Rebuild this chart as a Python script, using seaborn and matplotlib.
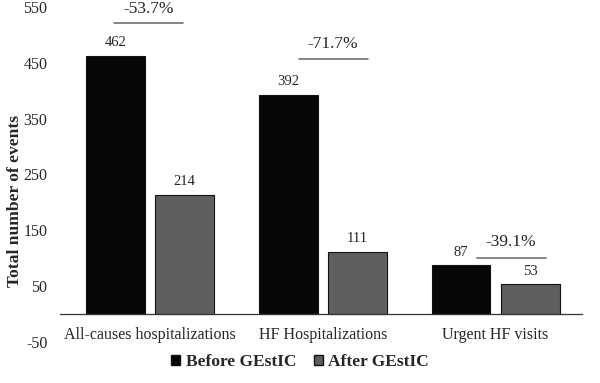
import pandas as pd
import numpy as np
import matplotlib.pyplot as plt
import seaborn as sns
from matplotlib.patches import Patch

# data
categories = ["All-causes hospitalizations", "HF Hospitalizations", "Urgent HF visits"]
before = [462, 392, 87]
after = [214, 111, 53]
changes = ["-53.7%", "-71.7%", "-39.1%"]
phases = ["Before GEstIC", "After GEstIC"]

df = pd.DataFrame({
    "category": categories * 2,
    "phase": [phases[0]] * 3 + [phases[1]] * 3,
    "events": before + after,
})

sns.set_style("white")
plt.rcParams["font.family"] = ["Liberation Serif", "DejaVu Serif"]
plt.rcParams["axes.unicode_minus"] = False

fig = plt.figure(figsize=(6, 3.83), dpi=100)
ax = fig.add_axes([0.1, 0.107, 0.87, 0.875])

sns.barplot(data=df, x="category", y="events", hue="phase",
            palette=["#070707", "#5f5f5f"], gap=0.15, width=0.8,
            edgecolor="#111111", linewidth=0.8, legend=False, ax=ax)

# value labels on top of bars
for cont in ax.containers:
    ax.bar_label(cont, padding=5, fontsize=10.5)

# percentage change with a short line above each group
line_y = [521, 457, 100]
text_y = [546, 484, 129]
line_x = [-0.01, 0.06, 0.09]
for i, (lab, ly, ty, cx) in enumerate(zip(changes, line_y, text_y, line_x)):
    ax.plot([i + cx - 0.2, i + cx + 0.2], [ly, ly], color="#6f6f6f", lw=1.2)
    ax.text(i + cx, ty, lab, ha="center", va="center", fontsize=12.5)

ax.set_ylim(-50, 550)
ax.set_xlim(-0.52, 2.5)
ax.set_yticks(np.arange(-50, 551, 100))
ax.set_xlabel("")
ax.set_ylabel("Total number of events", fontsize=12.6, fontweight="bold")
ax.yaxis.set_label_coords(-0.07, 0.42)
ax.tick_params(axis="y", length=0, labelsize=11.5, pad=9)
ax.tick_params(axis="x", length=0, labelsize=11.5, pad=9)

for s in ["top", "right", "left"]:
    ax.spines[s].set_visible(False)
ax.spines["bottom"].set_position(("data", 0))
ax.spines["bottom"].set_color("#333333")
ax.spines["bottom"].set_linewidth(0.9)

handles = [Patch(facecolor="#070707", edgecolor="#111111"),
           Patch(facecolor="#5f5f5f", edgecolor="#111111")]
fig.legend(handles, phases, loc="center", bbox_to_anchor=(0.5, 0.055), ncol=2,
           frameon=False, handlelength=0.55, handleheight=0.55, handletextpad=0.3,
           columnspacing=1.0, prop={"weight": "bold", "size": 12.5})

fig.savefig("out.png", dpi=100)
